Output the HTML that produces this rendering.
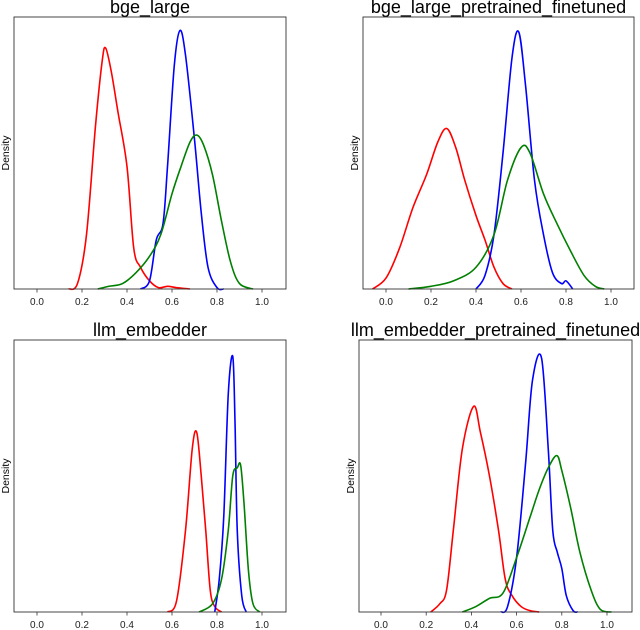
<!DOCTYPE html>
<html><head><meta charset="utf-8"><style>
html,body{margin:0;padding:0;background:#fff}
svg{display:block;font-family:"Liberation Sans","DejaVu Sans",sans-serif}
</style></head><body>
<svg id="chart" width="640" height="630"></svg>
<script>
const panelTitles = ["bge_large","bge_large_pretrained_finetuned","llm_embedder","llm_embedder_pretrained_finetuned"];
const xTicks = [0.0,0.2,0.4,0.6,0.8,1.0];
const xTickLabels = ["0.0","0.2","0.4","0.6","0.8","1.0"];
const seriesColors = ["red","blue","green"];
const seriesNames = ["red-density","blue-density","green-density"];
// normalized density values [x, density fraction of axis height]
const p1Red = [[0.14,0],[0.18,0.02],[0.22,0.2],[0.26,0.6],[0.29,0.84],[0.305,0.886],[0.33,0.8],[0.36,0.65],[0.40,0.45],[0.43,0.15],[0.46,0.08],[0.50,0.03],[0.54,0.005],[0.58,0.01],[0.62,0.005],[0.68,0]];
const p1Blue = [[0.46,0],[0.50,0.03],[0.53,0.18],[0.56,0.24],[0.58,0.45],[0.61,0.82],[0.635,0.95],[0.66,0.86],[0.70,0.55],[0.73,0.28],[0.76,0.08],[0.80,0.005],[0.83,0]];
const p1Green = [[0.27,0],[0.32,0.01],[0.38,0.02],[0.44,0.06],[0.50,0.12],[0.55,0.2],[0.60,0.35],[0.64,0.45],[0.68,0.54],[0.71,0.566],[0.74,0.53],[0.78,0.42],[0.82,0.25],[0.86,0.1],[0.90,0.02],[0.96,0]];
const p2Red = [[-0.06,0],[0.0,0.04],[0.06,0.15],[0.12,0.3],[0.18,0.42],[0.23,0.54],[0.27,0.59],[0.31,0.52],[0.35,0.4],[0.40,0.27],[0.44,0.18],[0.48,0.08],[0.52,0.02],[0.56,0]];
const p2Blue = [[0.40,0],[0.44,0.05],[0.48,0.2],[0.52,0.5],[0.56,0.85],[0.59,0.945],[0.62,0.75],[0.66,0.4],[0.70,0.2],[0.74,0.06],[0.78,0.02],[0.80,0.03],[0.83,0]];
const p2Green = [[0.10,0],[0.20,0.01],[0.30,0.03],[0.40,0.08],[0.48,0.2],[0.54,0.4],[0.60,0.52],[0.64,0.5],[0.70,0.35],[0.76,0.24],[0.82,0.14],[0.88,0.05],[0.93,0.01],[0.97,0]];
const p3Red = [[0.58,0],[0.62,0.04],[0.66,0.3],[0.69,0.6],[0.71,0.66],[0.73,0.5],[0.75,0.3],[0.77,0.08],[0.79,0.02],[0.82,0]];
const p3Blue = [[0.79,0],[0.81,0.12],[0.83,0.35],[0.85,0.8],[0.87,0.94],[0.88,0.7],[0.89,0.3],[0.91,0.06],[0.93,0]];
const p3Green = [[0.72,0],[0.78,0.03],[0.82,0.12],[0.85,0.3],[0.87,0.5],[0.89,0.53],[0.905,0.54],[0.92,0.4],[0.94,0.15],[0.96,0.03],[0.99,0]];
const p4Red = [[0.22,0],[0.26,0.03],[0.29,0.08],[0.32,0.3],[0.36,0.6],[0.41,0.756],[0.44,0.66],[0.48,0.5],[0.52,0.3],[0.55,0.12],[0.58,0.06],[0.62,0.02],[0.66,0.005],[0.70,0]];
const p4Blue = [[0.53,0],[0.56,0.02],[0.60,0.2],[0.64,0.55],[0.67,0.85],[0.71,0.935],[0.74,0.6],[0.76,0.3],[0.78,0.22],[0.80,0.16],[0.82,0.06],[0.85,0.005],[0.87,0]];
const p4Green = [[0.36,0],[0.42,0.02],[0.48,0.05],[0.54,0.07],[0.60,0.2],[0.66,0.35],[0.70,0.45],[0.74,0.53],[0.778,0.575],[0.80,0.52],[0.84,0.38],[0.88,0.22],[0.93,0.08],[0.97,0.01],[1.02,0]];
const panelSeries = [[p1Red,p1Blue,p1Green],[p2Red,p2Blue,p2Green],[p3Red,p3Blue,p3Green],[p4Red,p4Blue,p4Green]];

const NS="http://www.w3.org/2000/svg";
const svg=document.getElementById('chart');
const boxes=[{l:14,r:286,t:17,b:289,x0:37,s:225},{l:363,r:634,t:17,b:289,x0:386,s:225},{l:14,r:286,t:340,b:612,x0:37,s:225},{l:359,r:632,t:340,b:612,x0:381,s:226}];
function mk(tag,attrs){const e=document.createElementNS(NS,tag);for(const k in attrs)e.setAttribute(k,attrs[k]);return e;}
function path(pts,xs,ys){
  const P=pts.map(p=>[xs(p[0]),ys(p[1])]);
  let d="M"+P[0][0].toFixed(2)+","+P[0][1].toFixed(2);
  for(let i=0;i<P.length-1;i++){
    const p0=P[Math.max(0,i-1)],p1=P[i],p2=P[i+1],p3=P[Math.min(P.length-1,i+2)];
    const c1=[p1[0]+(p2[0]-p0[0])/6,p1[1]+(p2[1]-p0[1])/6];
    const c2=[p2[0]-(p3[0]-p1[0])/6,p2[1]-(p3[1]-p1[1])/6];
    d+=" C"+c1[0].toFixed(2)+","+c1[1].toFixed(2)+" "+c2[0].toFixed(2)+","+c2[1].toFixed(2)+" "+p2[0].toFixed(2)+","+p2[1].toFixed(2);
  }
  return d;
}
boxes.forEach((B,pi)=>{
  const g=mk('g',{});
  
  
  svg.appendChild(g);
  const xs=v=>B.x0+v*B.s, ys=v=>B.b-v*(B.b-B.t);
  const ttl=mk('text',{x:(B.l+B.r)/2,y:B.t-4,'text-anchor':'middle','font-size':18,fill:'#000'});
  ttl.textContent=panelTitles[pi];
  
  
  g.appendChild(ttl);
  const yl=mk('text',{x:0,y:0,transform:`translate(${B.l-5},${(B.t+B.b)/2}) rotate(-90)`,'text-anchor':'middle','font-size':10.5,fill:'#000'});
  yl.textContent="Density";
  
  
  g.appendChild(yl);
  panelSeries[pi].forEach((pts,si)=>{
    const p=mk('path',{d:path(pts,xs,ys),fill:'none',stroke:seriesColors[si],'stroke-width':1.6,'stroke-linejoin':'round'});
    
    
    g.appendChild(p);
  });
  const rect=mk('rect',{x:B.l,y:B.t,width:B.r-B.l,height:B.b-B.t,fill:'none',stroke:'#333','stroke-width':0.9});
  
  
  g.appendChild(rect);
  xTicks.forEach((t,i)=>{
    const ln=mk('line',{x1:xs(t),x2:xs(t),y1:B.b,y2:B.b+3.5,stroke:'#333','stroke-width':0.8});
    
    
    g.appendChild(ln);
    const tx=mk('text',{x:xs(t),y:B.b+16,'text-anchor':'middle','font-size':10,fill:'#222'});
    tx.textContent=xTickLabels[i];
    
    
    g.appendChild(tx);
  });
});
</script>
</body></html>
